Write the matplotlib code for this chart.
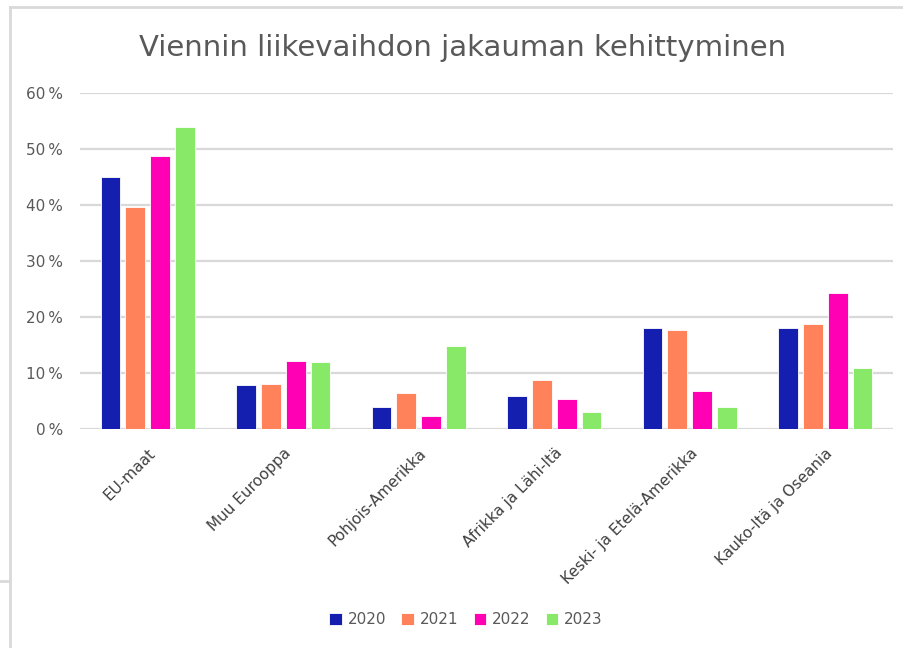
import numpy as np
import matplotlib
matplotlib.use('Agg')
from matplotlib import pyplot as plt
from matplotlib.lines import Line2D
from matplotlib.ticker import FuncFormatter

# Data (share of export turnover, %)
alueet = ['EU-maat', 'Muu Eurooppa', 'Pohjois-Amerikka', 'Afrikka ja Lähi-Itä',
          'Keski- ja Etelä-Amerikka', 'Kauko-Itä ja Oseania']
vuodet = ['2020', '2021', '2022', '2023']
v2020 = [45.0, 7.9, 3.9, 5.9, 18.0, 18.0]
v2021 = [39.7, 8.0, 6.5, 8.7, 17.6, 18.7]
v2022 = [48.7, 12.1, 2.4, 5.3, 6.8, 24.3]
v2023 = [54.0, 12.0, 14.9, 3.0, 3.9, 10.9]
sarjat = [v2020, v2021, v2022, v2023]
varit = ['#141EAF', '#FF825A', '#FF00B4', '#88E868']

fig = plt.figure(figsize=(9.04, 6.48), dpi=100)
ax = fig.add_axes([80/904, 1 - 429/648, (893-80)/904, (429-93)/648])

x = np.arange(len(alueet))
leveys = 0.145
askel = 0.184
for i, (arvot, vari) in enumerate(zip(sarjat, varit)):
    ax.bar(x + (i - 1.5) * askel, arvot, leveys, color=vari, label=vuodet[i],
           edgecolor='white', linewidth=0.6, zorder=3)

ax.set_xlim(-0.5, len(alueet) - 0.5)
ax.set_ylim(0, 60)
ax.set_yticks(range(0, 61, 10))
ax.yaxis.set_major_formatter(FuncFormatter(lambda v, p: f'{int(v)}\u2009%'))
ax.grid(axis='y', color='#D9D9D9', linewidth=1.6, zorder=0)
for s in ax.spines.values():
    s.set_visible(False)
ax.tick_params(axis='y', length=0, pad=12, labelsize=11, labelcolor='#595959')
ax.tick_params(axis='x', length=0, pad=12)
ax.set_xticks(x)
ax.set_xticklabels(alueet, rotation=45, ha='right', rotation_mode='anchor',
                   fontsize=11, color='#404040')

fig.suptitle('Viennin liikevaihdon jakauman kehittyminen', x=463/904, y=1 - 48/648,
             va='center', fontsize=21, color='#595959')

ax.legend(loc='center', bbox_to_anchor=(466/904, 1 - 620/648), bbox_transform=fig.transFigure,
          ncol=4, frameon=False, fontsize=11, labelcolor='#595959',
          handlelength=0.8, handleheight=0.8, handletextpad=0.4, columnspacing=1.0)

# frame lines from the screenshot
fig.add_artist(Line2D([10/904, 10/904], [0, 1 - 7/648], color='#D9D9D9', linewidth=2,
                      transform=fig.transFigure))
fig.add_artist(Line2D([10/904, 1], [1 - 7/648, 1 - 7/648], color='#D9D9D9', linewidth=2,
                      transform=fig.transFigure))
fig.add_artist(Line2D([0, 10/904], [1 - 581/648, 1 - 581/648], color='#D9D9D9', linewidth=2,
                      transform=fig.transFigure))

plt.savefig('out.png', dpi=100)
